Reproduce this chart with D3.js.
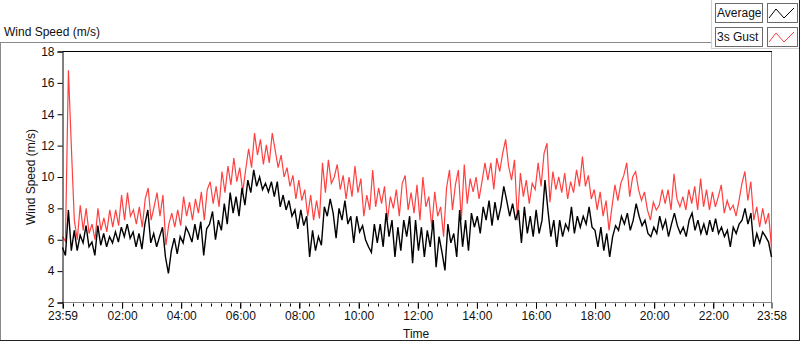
<!DOCTYPE html>
<html>
<head>
<meta charset="utf-8">
<script src="https://cdn.jsdelivr.net/npm/d3@7"></script>
<style>
  body { margin: 0; background: #fff; }
  svg { display: block; font-family: "Liberation Sans", Arial, sans-serif; }
</style>
</head>
<body>
<div id="chart"></div>
<script>
// wind speed readings (m/s), evenly spaced from 23:59 to 23:58
const gustValues = [
  6.2, 5.9, 16.8, 11.9, 7.25, 6.0, 8.2, 6.6, 8.0, 6.4, 7.0, 6.0, 8.0, 6.6, 7.4, 6.5, 7.9, 6.8, 7.9, 6.9,
  8.85, 7.25, 9.0, 7.5, 7.9, 7.0, 8.1, 6.8, 8.6, 9.3, 7.25, 8.1, 9.0, 7.5, 8.85, 5.65, 7.0, 7.7, 6.8, 7.9,
  6.9, 8.75, 7.5, 8.4, 7.25, 8.6, 7.7, 9.05, 7.25, 9.2,
  9.7, 8.3, 9.4, 8.1, 10.35, 9.0, 10.7, 9.5, 11.2, 9.7, 10.6, 9.05, 10.45, 11.8, 10.6, 12.8, 11.4, 12.4, 10.8, 12.05,
  10.9, 12.8, 11.7, 10.6, 11.4, 10.0, 10.6, 9.4, 10.1, 8.6, 9.8, 8.5, 9.2, 7.5, 8.85, 7.25, 8.5, 7.35, 10.9, 9.0,
  11.1, 9.6, 10.0, 10.8, 9.2, 10.1, 8.6,
  10.0, 8.75, 10.7, 9.0, 9.9, 7.5, 8.85, 7.9, 10.45, 8.1, 9.3, 8.3, 9.4, 7.25, 8.75, 8.0, 9.2, 7.5, 9.6, 10.1,
  7.9, 9.0, 7.7, 9.5, 7.25, 10.0, 8.1, 8.75, 6.8, 9.05, 7.5, 8.1, 6.2, 9.3, 10.45, 7.9, 9.5, 10.45, 7.25, 10.8,
  8.3, 9.9, 9.05, 10.0, 8.6, 9.7, 10.9,
  9.8, 10.9, 9.2, 11.2, 10.35, 11.5, 12.4, 10.7, 9.8, 11.1, 7.25, 10.25, 8.75, 9.8, 8.3, 9.6, 9.2, 10.9, 9.4, 11.5,
  12.15, 8.4, 10.35, 9.2, 10.0, 9.0, 10.25, 8.6, 9.7, 9.0, 10.45, 9.4, 11.3, 9.4, 10.1, 8.6, 9.2, 7.9, 9.05, 7.5,
  8.5, 6.6, 8.1, 9.5, 8.5, 9.6, 10.1,
  10.9, 8.75, 10.0, 10.35, 9.2, 8.5, 9.05, 7.9, 7.25, 8.4, 7.9, 8.2, 9.2, 8.3, 9.2, 7.9, 10.2, 8.6, 8.1, 8.75,
  7.9, 9.2, 8.3, 9.4, 7.9, 9.9, 8.1, 9.2, 7.9, 9.05, 8.1, 8.75, 9.5, 7.7, 8.5, 7.9, 8.2, 7.5, 8.5, 9.6,
  10.35, 8.5, 9.7, 7.25, 8.1, 6.8, 8.0, 7.0, 7.7, 5.5
]

const avgValues = [
  5.5, 5.0, 7.9, 5.3, 6.6, 5.3, 6.3, 5.8, 6.9, 5.55, 5.85, 5.0, 6.9, 5.65, 6.4, 5.55, 6.2, 5.8, 6.5, 5.85,
  6.8, 6.2, 7.0, 6.1, 6.5, 5.55, 6.4, 5.4, 7.0, 7.9, 5.8, 6.4, 5.55, 6.2, 6.8, 4.9, 3.85, 5.3, 6.1, 5.1,
  6.2, 5.8, 6.8, 6.4, 5.85, 7.0, 6.0, 7.15, 5.0, 6.7, 7.0,
  7.8, 6.0, 7.25, 6.6, 8.3, 7.0, 9.0, 7.7, 8.75, 7.5, 9.3, 8.2, 9.8, 9.0, 10.45, 9.4, 10.0, 9.2, 9.6, 9.05,
  9.7, 8.75, 9.7, 8.1, 8.85, 7.9, 8.5, 7.5, 7.9, 6.7, 7.9, 6.9, 7.5, 4.9, 6.6, 5.3, 6.2, 5.65, 8.1, 7.5,
  8.6, 7.7, 6.1, 8.0, 7.25, 8.5, 7.0,
  7.5, 5.8, 7.5, 6.5, 6.9, 6.0, 5.55, 5.2, 7.0, 5.8, 7.0, 5.55, 7.7, 6.2, 7.25, 4.9, 6.8, 5.3, 7.25, 6.2,
  7.5, 4.5, 7.25, 5.3, 6.8, 4.9, 6.6, 5.55, 7.25, 4.25, 6.2, 5.2, 4.05, 7.0, 5.8, 6.4, 4.9, 7.9, 5.55, 7.25,
  5.3, 7.7, 6.8, 7.5, 6.4, 8.1, 7.25,
  8.5, 6.9, 8.4, 7.25, 8.1, 9.4, 8.5, 7.5, 8.3, 7.25, 7.9, 5.8, 8.1, 6.4, 7.5, 6.2, 7.9, 6.4, 7.25, 9.8,
  7.9, 6.2, 7.25, 5.55, 7.25, 6.2, 7.0, 6.6, 8.1, 6.4, 7.5, 6.8, 7.5, 7.0, 8.1, 6.8, 6.6, 5.55, 6.8, 5.3,
  6.4, 4.9, 6.2, 6.9, 6.6, 7.5, 7.0,
  7.7, 6.6, 7.25, 8.3, 7.5, 6.9, 7.25, 6.4, 6.2, 6.8, 6.4, 7.5, 6.7, 7.25, 6.2, 7.0, 7.7, 6.9, 6.4, 6.8,
  6.2, 7.25, 7.7, 6.6, 7.25, 6.4, 7.0, 6.3, 7.25, 6.5, 7.35, 6.4, 6.8, 6.2, 6.6, 5.55, 6.8, 6.4, 7.0, 7.25,
  8.0, 7.0, 7.7, 5.55, 6.4, 5.8, 6.5, 6.2, 5.85, 4.9
]

const yTicks = [2, 4, 6, 8, 10, 12, 14, 16, 18]
const xTickLabels = ["23:59", "02:00", "04:00", "06:00", "08:00", "10:00", "12:00", "14:00", "16:00", "18:00", "20:00", "22:00", "23:58"]
const seriesNames = ["Average", "3s Gust"]
const seriesColors = ["#000000", "#ff4040"]

const width = 800, height = 342
const margin = { top: 51.5, right: 28.5, bottom: 39.5, left: 62.5 }

const svg = d3.select("#chart").append("svg")
    .attr("width", width)
    .attr("height", height)

// turn "HH:MM" into dates, rolling over to next day after the first label
const parseHM = d3.timeParse("%H:%M")
const tickDates = xTickLabels.map((s, i) => {
    let t = parseHM(s)
    if (i > 0) t = d3.timeDay.offset(t, 1)
    return t
})
const start = tickDates[0], end = tickDates[tickDates.length - 1]

let x = d3.scaleTime()
    .domain([start, end])
    .range([margin.left, width - margin.right])

let y = d3.scaleLinear()
    .domain([2, 18])
    .range([height - margin.bottom, margin.top])

// outer frame
svg.append("line").attr("x1", 0).attr("x2", 711).attr("y1", 42.5).attr("y2", 42.5).attr("stroke", "#8a8a8a")
svg.append("line").attr("x1", 0.5).attr("x2", 0.5).attr("y1", 42).attr("y2", 341).attr("stroke", "#8a8a8a")
svg.append("line").attr("x1", 0).attr("x2", 800).attr("y1", 340.5).attr("y2", 340.5).attr("stroke", "#222")
svg.append("line").attr("x1", 799.5).attr("x2", 799.5).attr("y1", 0).attr("y2", 341).attr("stroke", "#222")
svg.append("line").attr("x1", 711.5).attr("x2", 711.5).attr("y1", 0).attr("y2", 48.5).attr("stroke", "#d0d0d0")
svg.append("line").attr("x1", 711).attr("x2", 799).attr("y1", 48.5).attr("y2", 48.5).attr("stroke", "#d0d0d0")

svg.append("text")
    .attr("x", 4).attr("y", 36)
    .attr("font-size", 12)
    .attr("fill", "#111")
    .text("Wind Speed (m/s)")

// plot frame
const x0 = x.range()[0], x1 = x.range()[1]
const yTop = y.range()[1], yBot = y.range()[0]
svg.append("line").attr("x1", x1).attr("x2", x1).attr("y1", yTop).attr("y2", yBot).attr("stroke", "#8a8a8a")
svg.append("line").attr("x1", x0).attr("x2", x1).attr("y1", yBot).attr("y2", yBot).attr("stroke", "#8a8a8a")
svg.append("line").attr("x1", x0).attr("x2", x1 + 0.5).attr("y1", yTop).attr("y2", yTop).attr("stroke", "#000")

// lines
const step = (end - start)
function series(vals) {
    return vals.map((v, i) => ({ t: new Date(+start + step * i / (vals.length - 1)), v: v }))
}
const line = d3.line()
    .x(d => x(d.t))
    .y(d => y(d.v))

svg.append("path")
    .datum(series(gustValues))
    .attr("fill", "none")
    .attr("stroke", seriesColors[1])
    .attr("stroke-width", 1.2)
    .attr("d", line)

svg.append("path")
    .datum(series(avgValues))
    .attr("fill", "none")
    .attr("stroke", seriesColors[0])
    .attr("stroke-width", 1.4)
    .attr("d", line)

// y axis
let yAxis = d3.axisLeft(y)
    .tickValues(yTicks)
    .tickSize(5)
    .tickPadding(3)
let gy = svg.append("g")
    .attr("transform", `translate(${x0},0)`)
    .call(yAxis)
gy.select(".domain").attr("stroke", "#000")
gy.selectAll("text").attr("font-size", 12).attr("fill", "#111").attr("font-family", "Liberation Sans, Arial, sans-serif")

svg.append("text")
    .attr("transform", `translate(35,${(yTop + yBot) / 2}) rotate(-90)`)
    .attr("text-anchor", "middle")
    .attr("font-size", 12)
    .attr("fill", "#111")
    .text("Wind Speed (m/s)")

// x axis: minor ticks every 20 minutes, labels at given times
let minor = d3.timeMinute.every(20).range(d3.timeMinute.offset(start, 1), end)
svg.append("g")
    .selectAll("line")
    .data(minor)
    .enter()
    .append("line")
    .attr("x1", d => Math.round(x(d)) + 0.5)
    .attr("x2", d => Math.round(x(d)) + 0.5)
    .attr("y1", yBot + 1)
    .attr("y2", d => (d.getMinutes() === 0 && d.getHours() % 2 === 0) ? yBot + 6 : yBot + 4)
    .attr("stroke", "#000")

let xAxis = d3.axisBottom(x)
    .tickValues(tickDates)
    .tickFormat((d, i) => xTickLabels[i])
    .tickSize(6)
    .tickPadding(3)
let gx = svg.append("g")
    .attr("transform", `translate(0,${yBot})`)
    .call(xAxis)
gx.select(".domain").remove()
gx.selectAll("text").attr("font-size", 12).attr("fill", "#111").attr("font-family", "Liberation Sans, Arial, sans-serif")

svg.append("text")
    .attr("x", 403).attr("y", 338)
    .attr("font-size", 12)
    .attr("fill", "#111")
    .text("Time")

// legend
const legend = svg.append("g")
    .selectAll("g")
    .data(seriesNames)
    .enter()
    .append("g")
    .attr("transform", (d, i) => `translate(715,${3 + i * 24})`)

legend.append("rect")
    .attr("x", 0.5).attr("y", 0.5)
    .attr("width", 47).attr("height", 19)
    .attr("fill", "#fff")
    .attr("stroke", "#6a6a6a")
legend.append("text")
    .attr("x", 2).attr("y", 14)
    .attr("font-size", 12)
    .attr("fill", "#111")
    .text(d => d)
legend.append("rect")
    .attr("x", 52.5).attr("y", 0.5)
    .attr("width", 30).attr("height", 19)
    .attr("fill", "#fff")
    .attr("stroke", "#6a6a6a")
legend.append("path")
    .attr("fill", "none")
    .attr("stroke", (d, i) => seriesColors[i])
    .attr("d", "M54,15 L61,6 L69,15 L79,5")
</script>
</body>
</html>
